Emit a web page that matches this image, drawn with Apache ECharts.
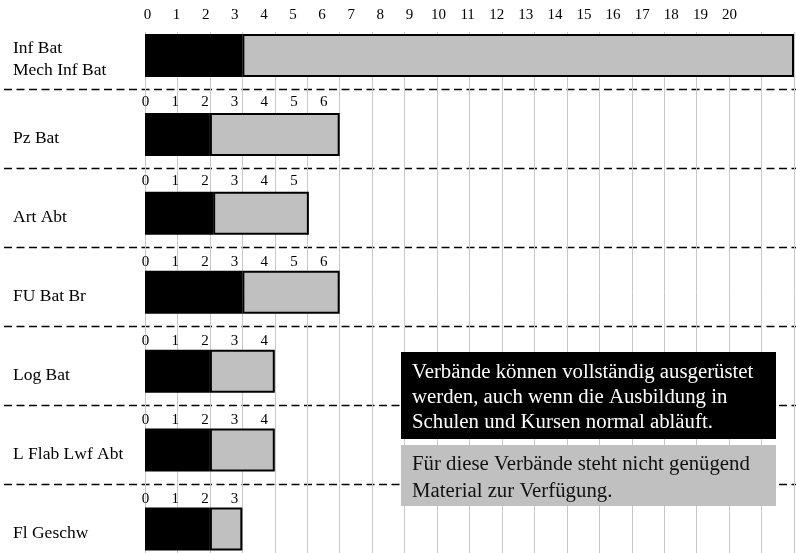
<!DOCTYPE html>
<html><head><meta charset="utf-8">
<script src="https://cdn.jsdelivr.net/npm/echarts@6/dist/echarts.min.js"></script>
<style>html,body{margin:0;padding:0;background:#fff}#c{width:796px;height:553px}</style>
</head><body><div id="c"></div>
<script>
// ---- data ----
const categories = ['Inf Bat\nMech Inf Bat', 'Pz Bat', 'Art Abt', 'FU Bat Br', 'Log Bat', 'L Flab Lwf Abt', 'Fl Geschw'];
const equipped  = [3, 2, 2.1, 3, 2, 2, 2];      // black part
const shortfall = [17, 4, 2.95, 3, 2, 2, 1];    // grey part
const topTicks = ['0','1','2','3','4','5','6','7','8','9','10','11','12','13','14','15','16','17','18','19','20'];
const rowTicks = [
  ['0','1','2','3','4','5','6'],
  ['0','1','2','3','4','5'],
  ['0','1','2','3','4','5','6'],
  ['0','1','2','3','4'],
  ['0','1','2','3','4'],
  ['0','1','2','3']
];
const noteBlack = 'Verbände können vollständig ausgerüstet\nwerden, auch wenn die Ausbildung in\nSchulen und Kursen normal abläuft.';
const noteGrey = 'Für diese Verbände steht nicht genügend\nMaterial zur Verfügung.';

// ---- layout ----
const FONT = 'Liberation Serif';
const rowLabelY = [102, 181.5, 262.5, 341.5, 420, 499];
const rowStep = 29.7;
const OB = {outerBoundsMode: 'none', containLabel: false};

const grids = [
  Object.assign({left: 145, right: 2, top: 32, bottom: 0}, OB),            // 0 vertical grid lines
  Object.assign({left: 4, right: 0, top: 10.3, height: 553.3}, OB),        // 1 dashed separators
  Object.assign({left: 145, right: 2, top: 16, height: 552.5}, OB),        // 2 bars
  Object.assign({left: 147.5, width: 582, top: 15, height: 1}, OB),        // 3 top tick labels
  Object.assign({left: 145, right: 2, top: 20, height: 552.5}, OB)         // 4 row names
];
rowTicks.forEach((t, i) => grids.push(Object.assign({left: 145.5, width: (t.length - 1) * rowStep, top: rowLabelY[i], height: 1}, OB)));

const hiddenAxis = (gi) => ({gridIndex: gi, type: 'value', show: false});
const labelAxis = (gi, data) => ({
  gridIndex: gi, type: 'category', data: data, boundaryGap: false, position: 'top',
  axisLine: {show: false}, axisTick: {show: false}, splitLine: {show: false},
  axisLabel: {interval: 0, margin: 0, verticalAlign: 'middle', fontFamily: FONT, fontSize: 15, color: '#000'}
});

const xAxes = [
  {gridIndex: 0, type: 'value', min: 0, max: 20, interval: 1,
   axisLine: {show: false}, axisTick: {show: false}, axisLabel: {show: false},
   splitLine: {show: true, lineStyle: {color: '#c8c8c8', width: 1}}},
  hiddenAxis(1),
  {gridIndex: 2, type: 'value', min: 0, max: 20, show: false},
  labelAxis(3, topTicks),
  hiddenAxis(4)
];
rowTicks.forEach((t, i) => xAxes.push(labelAxis(5 + i, t)));

const yAxes = [
  hiddenAxis(0),
  {gridIndex: 1, type: 'category', data: categories, inverse: true,
   axisLine: {show: false}, axisTick: {show: false}, axisLabel: {show: false},
   splitLine: {show: true, showMinLine: false, lineStyle: {color: '#000', width: 1.3, type: [8, 4.5]}}},
  {gridIndex: 2, type: 'category', data: categories, inverse: true, show: false},
  hiddenAxis(3),
  {gridIndex: 4, type: 'category', data: categories, inverse: true,
   axisLine: {show: false}, axisTick: {show: false}, splitLine: {show: false},
   axisLabel: {margin: 132, align: 'left', verticalAlign: 'middle',
               fontFamily: FONT, fontSize: 17.5, lineHeight: 21.5, color: '#000'}}
];
rowTicks.forEach((t, i) => yAxes.push(hiddenAxis(5 + i)));

const chart = echarts.init(document.getElementById('c'), null, {renderer: 'canvas'});
chart.setOption({
  animation: false,
  backgroundColor: '#fff',
  grid: grids,
  xAxis: xAxes,
  yAxis: yAxes,
  series: [
    {type: 'bar', name: 'equipped', stack: 's', xAxisIndex: 2, yAxisIndex: 2, barWidth: 43,
     data: equipped, itemStyle: {color: '#000', borderColor: '#000', borderWidth: 2}},
    {type: 'bar', name: 'shortfall', stack: 's', xAxisIndex: 2, yAxisIndex: 2, barWidth: 43,
     data: shortfall, itemStyle: {color: '#c0c0c0', borderColor: '#000', borderWidth: 2}}
  ],
  graphic: [
    {type: 'rect', left: 401, top: 352, shape: {width: 375, height: 87}, style: {fill: '#000'}, z: 100},
    {type: 'text', left: 412, top: 360, z: 101,
     style: {text: noteBlack, fill: '#fff', font: '20.8px "Liberation Serif"', lineHeight: 25}},
    {type: 'rect', left: 401, top: 445, shape: {width: 375, height: 61}, style: {fill: '#c0c0c0'}, z: 100},
    {type: 'text', left: 412, top: 451, z: 101,
     style: {text: noteGrey, fill: '#111', font: '20.8px "Liberation Serif"', lineHeight: 27}}
  ]
});
</script></body></html>
